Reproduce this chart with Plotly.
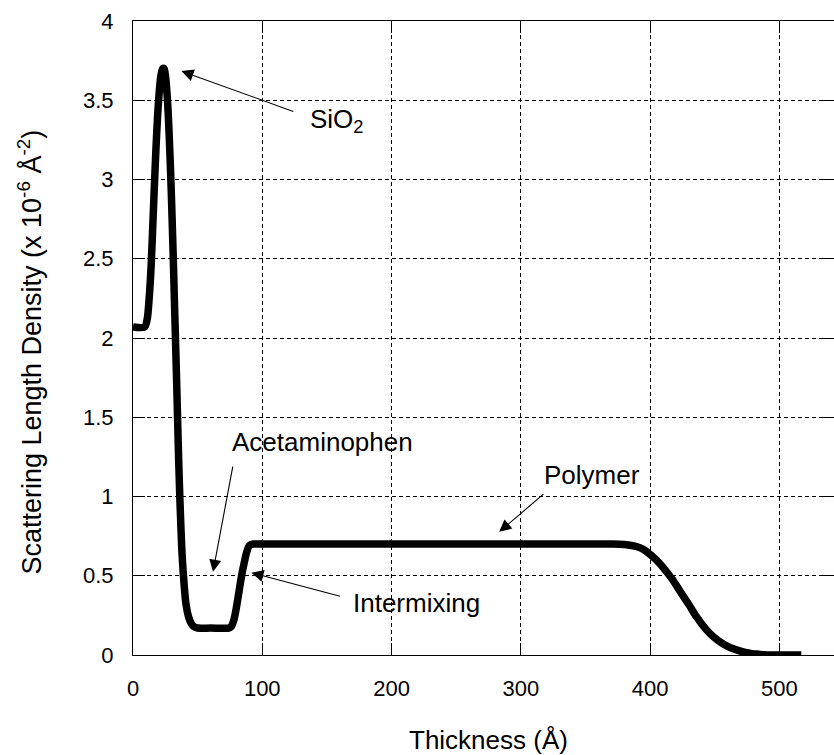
import plotly.graph_objects as go

# Thickness (Å) and scattering length density (x 1e-6 Å^-2)
thickness = [0, 9, 11, 12.5, 14, 15.5, 17, 18.5, 20, 21.5, 23, 24, 25, 26.5, 28, 29.5,
             31, 32, 33, 34, 35, 36, 37, 38, 39.5, 41, 43, 45, 47, 50, 60, 74, 76, 78,
             80, 82, 84, 86, 88, 90, 93, 100, 200, 300, 360, 370, 380, 390, 395, 400, 405,
             410, 417, 423, 430, 436, 443, 449, 455, 460, 465, 470, 477, 484, 490, 500, 517]
sld = [2.07, 2.07, 2.12, 2.25, 2.45, 2.75, 3.05, 3.32, 3.52, 3.65, 3.70, 3.70, 3.66, 3.52, 3.28, 2.95,
       2.55, 2.25, 1.95, 1.65, 1.33, 1.05, 0.82, 0.63, 0.45, 0.32, 0.24, 0.20, 0.18, 0.17, 0.17, 0.17, 0.18, 0.22,
       0.30, 0.40, 0.50, 0.58, 0.65, 0.69, 0.70, 0.70, 0.70, 0.70, 0.70, 0.70, 0.697, 0.683, 0.665, 0.635, 0.598,
       0.553, 0.48, 0.405, 0.318, 0.24, 0.165, 0.115, 0.078, 0.055, 0.038, 0.025, 0.012, 0.005, 0.0, 0.0, 0.0]

x_ticks = [0, 100, 200, 300, 400, 500]
y_ticks = [0, 0.5, 1, 1.5, 2, 2.5, 3, 3.5, 4]
y_tick_labels = ["0", "0.5", "1", "1.5", "2", "2.5", "3", "3.5", "4"]

# annotation labels and their arrows
labels = ["SiO<sub>2</sub>", "Acetaminophen", "Polymer", "Intermixing"]
label_x = [135.2, 75.0, 316.1, 169.0]
label_y = [3.37, 1.343, 1.135, 0.33]
head_x = [37.5, 61.9, 283.3, 91.6]
head_y = [3.684, 0.525, 0.777, 0.519]
tail_x = [125.2, 77.4, 318.7, 161.3]
tail_y = [3.426, 1.198, 1.023, 0.368]

FONT = "Liberation Sans, Arial, sans-serif"

fig = go.Figure()
fig.add_trace(go.Scatter(x=thickness, y=sld, mode="lines",
                         line=dict(color="black", width=7.5, shape="spline", smoothing=0.8),
                         showlegend=False, hoverinfo="skip"))

annotations = []
for t, lx, ly in zip(labels, label_x, label_y):
    annotations.append(dict(x=lx, y=ly, xref="x", yref="y", text=t, showarrow=False,
                            xanchor="left", yanchor="middle",
                            font=dict(family=FONT, size=26, color="black")))
for hx, hy, tx, ty in zip(head_x, head_y, tail_x, tail_y):
    annotations.append(dict(x=hx, y=hy, xref="x", yref="y", ax=tx, ay=ty,
                            axref="x", ayref="y", text="", showarrow=True,
                            arrowhead=2, arrowsize=2.2, arrowwidth=1.1, arrowcolor="black"))

annotations.append(dict(x=0.5076, y=-0.134, xref="paper", yref="paper",
                        text="Thickness (Å)", showarrow=False,
                        xanchor="center", yanchor="middle",
                        font=dict(family=FONT, size=26, color="black")))
annotations.append(dict(x=-0.1474, y=0.478, xref="paper", yref="paper",
                        text="Scattering Length Density (x 10<sup>-6</sup> Å<sup>-2</sup>)",
                        showarrow=False, textangle=-90,
                        xanchor="center", yanchor="middle",
                        font=dict(family=FONT, size=27, color="black")))

fig.update_layout(
    width=834, height=755,
    margin=dict(l=133, r=0, t=21, b=100),
    paper_bgcolor="white", plot_bgcolor="white",
    annotations=annotations,
    font=dict(family=FONT, color="black"),
)
fig.update_xaxes(range=[0, 542.3], tickvals=x_ticks, ticks="inside", ticklen=12,
                 tickcolor="black", showline=True, linecolor="black", linewidth=1,
                 mirror="ticks", showgrid=True, gridcolor="black", gridwidth=1,
                 griddash="4px,3px", zeroline=False,
                 tickfont=dict(family=FONT, size=22, color="black"),
                 ticklabelstandoff=14)
fig.update_yaxes(range=[0, 4], tickvals=y_ticks, ticktext=y_tick_labels, ticks="inside",
                 ticklen=12, tickcolor="black", showline=True, linecolor="black",
                 linewidth=1, mirror="ticks", showgrid=True, gridcolor="black",
                 gridwidth=1, griddash="4px,3px", zeroline=False,
                 tickfont=dict(family=FONT, size=22, color="black"),
                 ticklabelstandoff=14)

fig.write_html("out.html")
